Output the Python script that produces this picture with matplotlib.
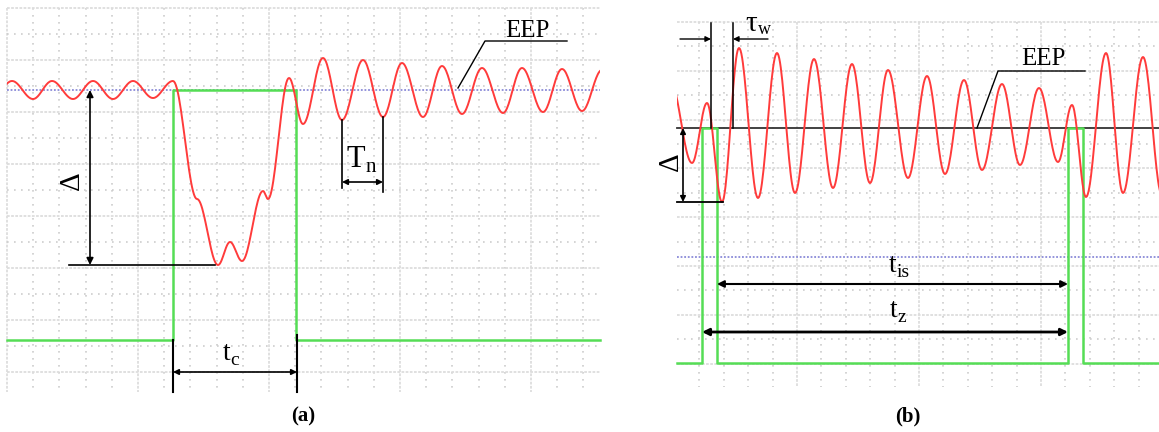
import numpy as np
import matplotlib
matplotlib.use("Agg")
import matplotlib.pyplot as plt
from matplotlib.patches import Rectangle

plt.rcParams['font.family'] = ['Liberation Serif', 'DejaVu Serif']

# ---- panel (a): voltage dip, trigger pulse ----
a_wave_t = [-8, 12, 33, 52, 73, 93, 113, 133, 153, 173, 197, 218, 230, 242, 263, 268, 289,
            303, 323, 342, 363, 383, 402, 423, 442, 462, 482, 503, 522, 543, 562, 582, 602]
a_wave_v = [99, 81, 99, 81, 99, 81, 99, 81, 98, 81, 199, 265, 242, 261, 191, 199, 78,
            124, 58, 120, 60, 117, 63, 117, 66, 114, 68, 113, 68, 112, 69, 111, 70]
a_trig_t = [7, 173, 173, 296, 296, 600]
a_trig_v = [340, 340, 90, 90, 340, 340]
a_eep = 90
a_dip = 265
a_tn = [342, 383]
a_tc = [173, 297]

# ---- panel (b): oscillation around EEP, two pulses ----
b_wave_t = [670, 692, 707, 722, 739, 758, 777, 795, 814, 833, 852, 870, 888, 908, 927, 945,
            964, 982, 1002, 1020, 1039, 1058, 1072, 1086, 1106, 1123, 1143, 1162]
b_wave_v = [80, 163, 103, 202, 48, 198, 53, 193, 59, 188, 64, 183, 70, 178, 76, 174,
            80, 170, 84, 165, 88, 162, 105, 197, 53, 193, 57, 195]
b_trig_t = [677, 702, 702, 717, 717, 1068, 1068, 1083, 1083, 1159]
b_trig_v = [363, 363, 128, 128, 363, 363, 128, 128, 363, 363]
b_eep = 128
b_ref = 257
b_dip = 202
b_tau = [711, 733]

RED = '#ff3b3b'
GREEN = '#55dd55'
BLUE = '#8a8ad8'


def smooth(t, v, n=24):
    # half-cosine segments between successive extrema
    xs, ys = [], []
    for i in range(len(t) - 1):
        s = np.linspace(0, 1, n, endpoint=False)
        w = (1 - np.cos(np.pi * s)) / 2
        xs.append(t[i] + (t[i + 1] - t[i]) * s)
        ys.append(v[i] + (v[i + 1] - v[i]) * w)
    xs.append([t[-1]])
    ys.append([v[-1]])
    return np.concatenate(xs), np.concatenate(ys)


def scope_grid(ax, x0, x1, y0, y1, vx0, vdx, hy0, hdy):
    # major divisions + dotted sub-divisions
    major = dict(color='#dddddd', lw=1.3, ls=(0, (1.5, 0.8)), zorder=1)
    minor = dict(color='#cdcdcd', lw=1.2, ls=(0, (1, 3.2)), zorder=1)
    xs = np.arange(vx0, x1, vdx / 5)
    for i, x in enumerate(xs):
        if x < x0 - 0.5:
            continue
        ax.plot([x, x], [y0, y1], **(major if i % 5 == 0 else minor))
    ys = np.arange(hy0, y1 + 1, hdy / 2)
    for i, y in enumerate(ys):
        ax.plot([x0, x1], [y, y], **(major if i % 2 == 0 else minor))


def arrow(ax, p, q, style='<|-|>', lw=1.2, ms=10):
    ax.annotate('', xy=q, xytext=p,
                arrowprops=dict(arrowstyle=style, color='black', lw=lw,
                                mutation_scale=ms, shrinkA=0, shrinkB=0), zorder=6)


def sub_label(ax, x, y, main, sub, size=19, subsize=13, dy=5):
    ax.text(x, y, main, ha='right', va='baseline', size=size, zorder=7)
    ax.text(x + 0.5, y + dy, sub, ha='left', va='baseline', size=subsize, zorder=7)


fig = plt.figure(figsize=(11.59, 4.32), dpi=100)
ax = fig.add_axes([0, 0, 1, 1])
ax.set_xlim(0, 1159)
ax.set_ylim(432, 0)
ax.axis('off')

# ================= (a) =================
scope_grid(ax, 7, 600, 8, 392, 7, 131, 8, 52)
ax.plot([7, 600], [a_eep, a_eep], color=BLUE, lw=1.3, ls=(0, (1, 1)), zorder=2)
ax.plot(a_trig_t, a_trig_v, color=GREEN, lw=1.8, zorder=3)
wx, wy = smooth(a_wave_t, a_wave_v)
line, = ax.plot(wx, wy, color=RED, lw=1.4, zorder=4)
line.set_clip_path(Rectangle((7, 0), 593, 400, transform=ax.transData))

# delta
arrow(ax, (90, a_dip), (90, a_eep))
ax.plot([69, 215], [a_dip, a_dip], color='black', lw=1.2, zorder=5)
ax.text(72, 181, 'Δ', rotation=90, ha='center', va='center', size=21, zorder=7)

# T_n
ax.plot([a_tn[0], a_tn[0]], [120, 188], color='black', lw=1.2, zorder=5)
ax.plot([a_tn[1], a_tn[1]], [117, 192], color='black', lw=1.2, zorder=5)
arrow(ax, (a_tn[0], 182), (a_tn[1], 182), ms=8)
sub_label(ax, 365, 167, 'T', 'n', size=22, subsize=15, dy=5)

# t_c
ax.plot([a_tc[0], a_tc[0]], [340, 392], color='black', lw=1.5, zorder=5)
ax.plot([a_tc[1], a_tc[1]], [335, 392], color='black', lw=1.5, zorder=5)
arrow(ax, (a_tc[0], 372), (a_tc[1], 372), ms=8)
sub_label(ax, 230, 360, 't', 'c', size=20, subsize=14, dy=5)

# EEP leader
ax.plot([458, 485, 567], [a_eep - 2, 41, 41], color='black', lw=1.0, zorder=5)
ax.text(527, 37, 'EEP', ha='center', va='baseline', size=18, zorder=7)

ax.text(303, 416, '(a)', ha='center', va='center', size=15, weight='bold')

# ================= (b) =================
scope_grid(ax, 677, 1159, 22, 387, 675, 122, 22, 48.8)
ax.plot([677, 1159], [b_ref, b_ref], color=BLUE, lw=1.3, ls=(0, (1, 1)), zorder=2)
ax.plot([677, 1159], [b_eep, b_eep], color='#333333', lw=1.3, zorder=3)
ax.plot(b_trig_t, b_trig_v, color=GREEN, lw=1.8, zorder=3)
wx, wy = smooth(b_wave_t, b_wave_v)
line, = ax.plot(wx, wy, color=RED, lw=1.4, zorder=4)
line.set_clip_path(Rectangle((677, 0), 482, 400, transform=ax.transData))

# delta
arrow(ax, (683, b_dip), (683, b_eep), ms=8)
ax.plot([677, 723], [b_dip, b_dip], color='black', lw=1.3, zorder=5)
ax.text(671, 162, 'Δ', rotation=90, ha='center', va='center', size=21, zorder=7)

# tau_w
for x in b_tau:
    ax.plot([x, x], [23, b_eep], color='black', lw=1.1, zorder=5)
arrow(ax, (680, 39), (b_tau[0], 39), style='-|>', lw=1.0, ms=8)
arrow(ax, (768, 39), (b_tau[1], 39), style='-|>', lw=1.0, ms=8)
sub_label(ax, 757, 31, 'τ', 'w', size=21, subsize=13, dy=3)

# t_is and t_z
arrow(ax, (b_trig_t[3], 284), (b_trig_t[5], 284), lw=1.5, ms=10)
sub_label(ax, 896, 272, 't', 'is', size=20, subsize=14, dy=5)
arrow(ax, (b_trig_t[1], 332), (b_trig_t[5], 332), lw=2.0, ms=10)
sub_label(ax, 897, 317, 't', 'z', size=20, subsize=14, dy=5)

# EEP leader
ax.plot([977, 998, 1085], [b_eep, 71, 71], color='black', lw=1.0, zorder=5)
ax.text(1043, 65, 'EEP', ha='center', va='baseline', size=18, zorder=7)

ax.text(908, 416, '(b)', ha='center', va='center', size=15, weight='bold')

fig.savefig('out.png', dpi=100)
